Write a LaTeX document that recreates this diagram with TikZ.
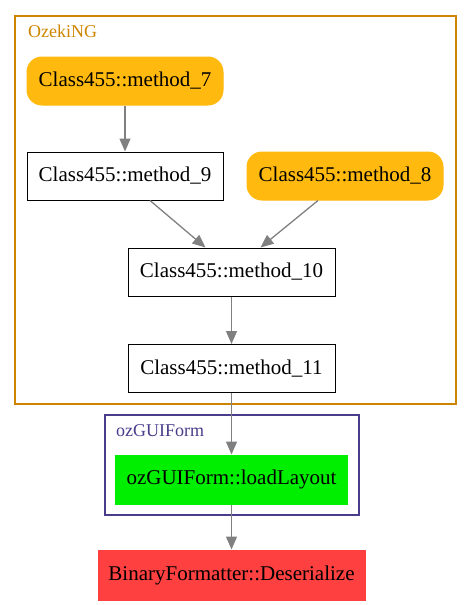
\documentclass[tikz,border=0pt]{standalone}
\usepackage{fontspec}
\setmainfont{Liberation Serif}
\usepackage{tikz}
\usetikzlibrary{arrows.meta, positioning}
\definecolor{ozekiorange}{HTML}{CD8500}
\definecolor{guiblue}{HTML}{483D8B}
\definecolor{methodgold}{HTML}{FFB90F}
\definecolor{layoutgreen}{HTML}{00EE00}
\definecolor{formatred}{HTML}{FF4040}

\begin{document}
\begin{tikzpicture}[
    x=1pt, y=-1pt,
    method/.style={draw, line width=1pt, minimum height=48pt, inner sep=0pt, align=center, font=\fontsize{21}{25}\selectfont},
    hot/.style={method, draw=methodgold, fill=methodgold, rounded corners=15pt},
    cluster/.style={line width=2pt},
    clabel/.style={anchor=west, inner sep=0pt, font=\fontsize{18}{21}\selectfont},
    arrow/.style={-{Triangle[length=13pt, width=11pt]}, line width=1.3pt, color=gray},
]
    \useasboundingbox (0,0) rectangle (471,605);

    % Clusters
    \draw[cluster, ozekiorange] (15,16) rectangle (456,404);
    \node[clabel, text=ozekiorange] (ozlabel) at (28,31) {OzekiNG};
    \draw[cluster, guiblue] (105,415) rectangle (359,515);
    \node[clabel, text=guiblue] (guilabel) at (116,431) {ozGUIForm};

    % Methods
    \node[hot, minimum width=196pt] (m7) at (125,81) {Class455::method\_7};
    \node[method, minimum width=196pt] (m9) at (125,176) {Class455::method\_9};
    \node[hot, minimum width=196pt] (m8) at (345,176) {Class455::method\_8};
    \node[method, minimum width=207pt] (m10) at (231.5,272) {Class455::method\_10};
    \node[method, minimum width=207pt] (m11) at (231.5,368.5) {Class455::method\_11};
    \node[method, draw=layoutgreen, fill=layoutgreen, minimum width=232pt, minimum height=49pt] (load) at (231.5,479.5) {ozGUIForm::loadLayout};
    \node[method, draw=formatred, fill=formatred, minimum width=267pt, minimum height=50pt] (deser) at (231.5,575) {BinaryFormatter::Deserialize};

    % Arrows
    \draw[arrow] (m7) -- (m9);
    \draw[arrow] ([xshift=25pt]m9.south) -- ([xshift=-26pt]m10.north);
    \draw[arrow] ([xshift=-27pt]m8.south) -- ([xshift=29pt]m10.north);
    \draw[arrow] (m10) -- (m11);
    \draw[arrow] (m11.south) -- (m11.south |- load.north);
    \draw[arrow] (load.south) -- (load.south |- deser.north);

\end{tikzpicture}
\end{document}
